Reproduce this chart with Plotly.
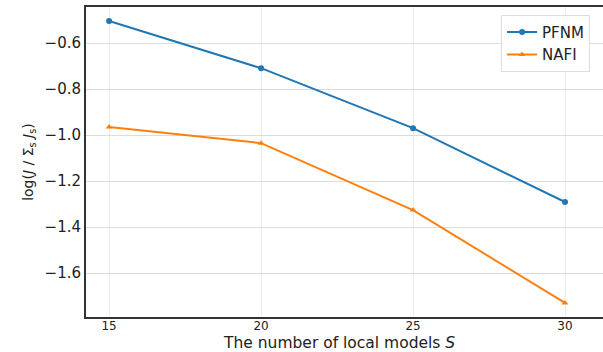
import plotly.graph_objects as go

S = [15, 20, 25, 30]
pfnm = [-0.504, -0.709, -0.970, -1.291]
nafi = [-0.965, -1.035, -1.326, -1.730]
yticks = [-0.6, -0.8, -1.0, -1.2, -1.4, -1.6]

fig = go.Figure()
fig.add_trace(go.Scatter(x=S, y=pfnm, name="PFNM", mode="lines+markers",
                         line=dict(color="#1f77b4", width=2),
                         marker=dict(symbol="circle", size=6, color="#1f77b4")))
fig.add_trace(go.Scatter(x=S, y=nafi, name="NAFI", mode="lines+markers",
                         line=dict(color="#ff7f0e", width=2),
                         marker=dict(symbol="triangle-up", size=6, color="#ff7f0e")))

fig.update_layout(
    width=603, height=352,
    margin=dict(l=86, r=0, t=7, b=35),
    paper_bgcolor="white", plot_bgcolor="white",
    font=dict(family="DejaVu Sans", color="#222", size=13),
    showlegend=True,
    legend=dict(x=0.975, y=0.975, xanchor="right", yanchor="top",
                bordercolor="#dddddd", borderwidth=1, bgcolor="white",
                font=dict(size=15, family="DejaVu Sans", color="#222"),
                itemwidth=30, tracegroupgap=0),
    xaxis=dict(range=[14.24, 31.25], tickvals=S, ticktext=[str(s) for s in S],
               showgrid=True, gridcolor="#ececec", gridwidth=1,
               showline=True, linecolor="#333", linewidth=2, mirror=True,
               zeroline=False, ticks="", tickfont=dict(size=12),
               ticklabelstandoff=-3),
    yaxis=dict(range=[-1.791, -0.443], tickvals=yticks,
               ticktext=[("\u2212%.1f" % abs(v)) for v in yticks],
               showgrid=True, gridcolor="#dcdcdc", gridwidth=1,
               showline=True, linecolor="#333", linewidth=2,
               zeroline=False, ticks="", tickfont=dict(size=15),
               title=dict(text="log(<i>J</i> / \u03a3<sub>s</sub> <i>J</i><sub>s</sub>)", font=dict(size=14), standoff=8)),
    annotations=[dict(text="The number of local models <i>S</i>", xref="paper", yref="paper",
                      x=0.49, y=0, yshift=-26, xanchor="center", yanchor="middle",
                      showarrow=False, font=dict(size=15.5, family="DejaVu Sans", color="#222"))],
)

fig.write_html("out.html")
